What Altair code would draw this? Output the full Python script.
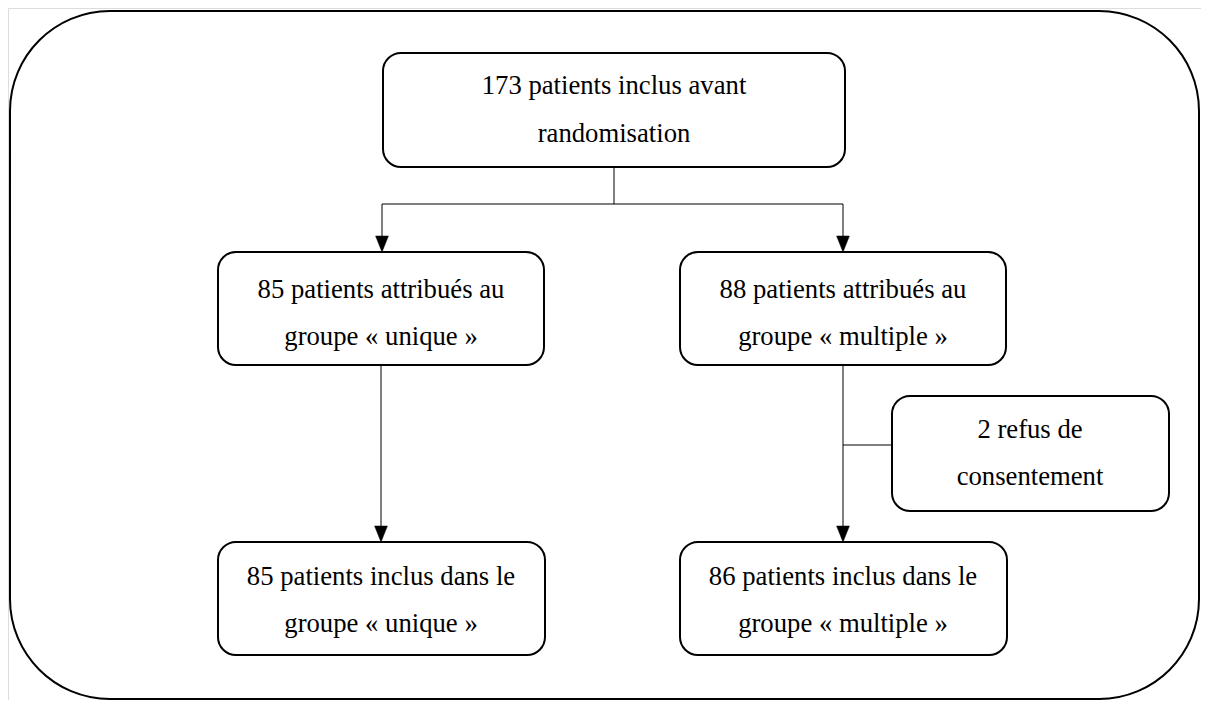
import altair as alt
import pandas as pd

# ---- content -------------------------------------------------------------
box_ids = ["top", "midL", "midR", "side", "botL", "botR"]
box_line1 = ["173 patients inclus avant", "85 patients attribués au",
             "88 patients attribués au", "2 refus de",
             "85 patients inclus dans le", "86 patients inclus dans le"]
box_line2 = ["randomisation", "groupe « unique »", "groupe « multiple »",
             "consentement", "groupe « unique »", "groupe « multiple »"]

# ---- layout (pixel positions on the page) ------------------------------
box_x1 = [383, 218, 680, 892, 218, 680]
box_x2 = [845, 544, 1006, 1169, 545, 1007]
box_y1 = [53, 252, 252, 396, 542, 542]
box_y2 = [167, 365, 365, 511, 655, 655]
text_cx = [614, 381, 843, 1030, 381, 843]
base1 = [94, 298, 298, 438, 585, 585]
base2 = [142, 345, 345, 485, 632, 632]

conn_x1 = [614, 382, 382, 843, 381, 843, 843]
conn_x2 = [614, 843, 382, 843, 381, 843, 892]
conn_y1 = [167, 204, 204, 204, 365, 365, 445]
conn_y2 = [204, 204, 238, 238, 528, 528, 445]

arrow_x = [382, 843, 381, 843]
arrow_y = [244, 244, 534, 534]

# ---- frames --------------------------------------------------------------
boxes = pd.DataFrame({"id": box_ids, "x": box_x1, "x2": box_x2,
                      "y": box_y1, "y2": box_y2})
texts = pd.DataFrame({
    "label": box_line1 + box_line2,
    "x": text_cx + text_cx,
    "y": base1 + base2,
})
conns = pd.DataFrame({"x": conn_x1, "x2": conn_x2, "y": conn_y1, "y2": conn_y2})
arrows = pd.DataFrame({"x": arrow_x, "y": arrow_y})
outer = pd.DataFrame({"x": [10], "x2": [1199], "y": [11], "y2": [699]})

W, H = 1193, 692
xs = alt.Scale(domain=[8, 8 + W], nice=False, zero=False)
ys = alt.Scale(domain=[8, 8 + H], nice=False, zero=False, reverse=True)

def X(f="x"):
    return alt.X(f"{f}:Q", scale=xs, axis=None)

def Y(f="y"):
    return alt.Y(f"{f}:Q", scale=ys, axis=None)

outer_l = alt.Chart(outer).mark_rect(
    fill="white", stroke="black", strokeWidth=2, cornerRadius=100, clip=False
).encode(x=X(), x2="x2:Q", y=Y(), y2="y2:Q")

conn_l = alt.Chart(conns).mark_rule(color="black", strokeWidth=1).encode(
    x=X(), x2="x2:Q", y=Y(), y2="y2:Q")

arrow_l = alt.Chart(arrows).mark_point(
    shape="M-0.8,-1L0.8,-1L0,1Z", size=256, filled=True, fill="black",
    stroke="black", strokeWidth=0.5, opacity=1
).encode(x=X(), y=Y())

box_l = alt.Chart(boxes).mark_rect(
    fill="white", stroke="black", strokeWidth=2, cornerRadius=18
).encode(x=X(), x2="x2:Q", y=Y(), y2="y2:Q")

text_l = alt.Chart(texts).mark_text(
    font="Liberation Serif, 'Times New Roman', Times, 'DejaVu Serif', serif",
    fontSize=26.7, color="black", align="center", baseline="alphabetic"
).encode(x=X(), y=Y(), text="label:N")

chart = alt.layer(outer_l, conn_l, arrow_l, box_l, text_l).properties(
    width=W, height=H, padding=0, autosize=alt.AutoSizeParams(type="none")
).configure_view(stroke=None).configure(background="white")

chart.save("out.html", embed_options={"renderer": "svg", "actions": False})
